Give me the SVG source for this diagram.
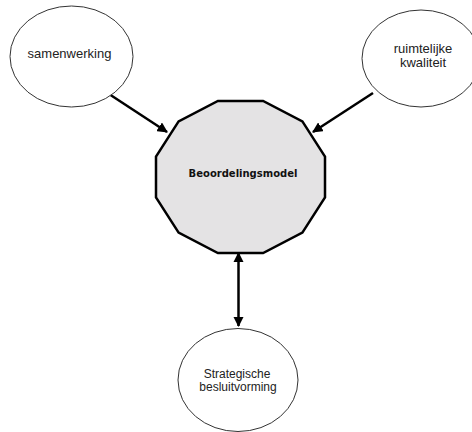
<svg xmlns="http://www.w3.org/2000/svg" width="472" height="432" viewBox="0 0 472 432">
  <style>
    .bubble { fill: #ffffff; stroke: #333333; stroke-width: 1; }
    .label { font-family: "Liberation Sans", Arial, sans-serif; fill: #222222; text-anchor: middle; }
    .hub { fill: #e4e3e4; stroke: #000000; stroke-width: 2.5; stroke-linejoin: miter; }
    .hub-label { font-family: "DejaVu Sans", Verdana, sans-serif; font-weight: bold; font-size: 10px; fill: #111111; text-anchor: middle; }
    .link { stroke: #000000; stroke-width: 2.5; fill: none; }
  </style>
  <defs>
    <marker id="head" viewBox="0 0 10 10" refX="9" refY="5" markerWidth="4.2" markerHeight="4.2" markerUnits="strokeWidth" orient="auto-start-reverse">
      <path d="M0,0 L10,5 L0,10 Z" fill="#000000"/>
    </marker>
  </defs>
  <rect width="472" height="432" fill="#ffffff"/>

  <g id="connectors">
    <line class="link" x1="109" y1="94" x2="167" y2="132" marker-end="url(#head)"/>
    <line class="link" x1="373" y1="93" x2="313" y2="132" marker-end="url(#head)"/>
    <line class="link" x1="238.5" y1="253" x2="238.5" y2="326" marker-start="url(#head)" marker-end="url(#head)"/>
  </g>

  <g id="samenwerking">
    <ellipse class="bubble" cx="71.5" cy="56.5" rx="61.5" ry="50.5"/>
    <text class="label" x="69.5" y="58" font-size="13">samenwerking</text>
  </g>

  <g id="ruimtelijke-kwaliteit">
    <ellipse class="bubble" cx="421" cy="58.5" rx="59" ry="48.5"/>
    <text class="label" x="423" y="53" font-size="13">ruimtelijke</text>
    <text class="label" x="423" y="67" font-size="13">kwaliteit</text>
  </g>

  <g id="beoordelingsmodel">
    <polygon class="hub" points="325,156.6 302.4,121.4 263.1,101 217.9,101 178.6,121.4 156,156.6 156,197.4 178.6,232.6 217.9,253 263.1,253 302.4,232.6 325,197.4"/>
    <text class="hub-label" x="243" y="177">Beoordelingsmodel</text>
  </g>

  <g id="strategische-besluitvorming">
    <ellipse class="bubble" cx="238" cy="380" rx="60" ry="51.5"/>
    <text class="label" x="237" y="378" font-size="12">Strategische</text>
    <text class="label" x="238" y="391" font-size="12">besluitvorming</text>
  </g>
</svg>
